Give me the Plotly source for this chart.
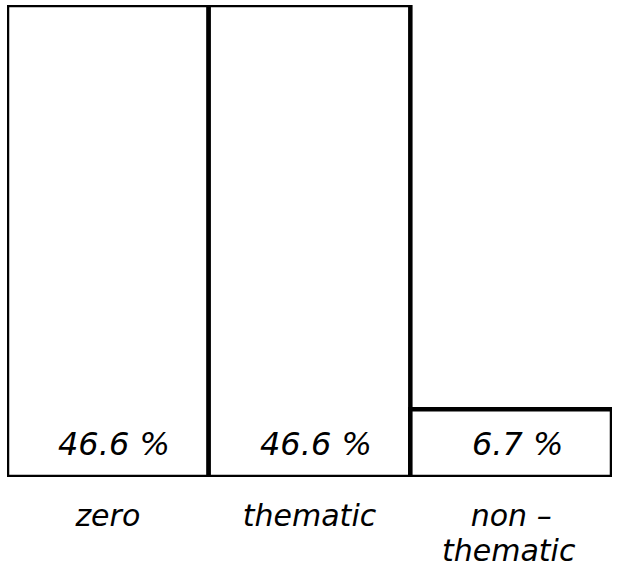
import plotly.graph_objects as go

categories = ["zero", "thematic", "non-thematic"]
tick_labels = ["zero", "thematic", "non –"]
tick_label_second_line = ["", "", "thematic"]
values = [46.6, 46.6, 6.7]
value_labels = ["46.6 %", "46.6 %", "6.7 %"]

FONT = "DejaVu Sans"

fig = go.Figure()
fig.add_trace(go.Bar(
    x=categories, y=values,
    marker=dict(color="white", line=dict(color="black", width=4.5)),
    hoverinfo="skip",
))

for c, t in zip(categories, value_labels):
    fig.add_annotation(
        x=c, y=0, text=t, showarrow=False, xref="x", yref="y",
        yanchor="bottom", yshift=12, xshift=6,
        font=dict(family=FONT, size=32, color="black", style="italic"),
    )

for c, t in zip(categories, tick_label_second_line):
    if t:
        fig.add_annotation(
            x=c, y=0, text=t, showarrow=False, xref="x", yref="y",
            yanchor="top", yshift=-54, xshift=-2,
            font=dict(family=FONT, size=30, color="black", style="italic"),
        )

fig.update_layout(
    width=618, height=574,
    margin=dict(l=7, r=6, t=5, b=97),
    paper_bgcolor="white", plot_bgcolor="white",
    bargap=0, showlegend=False,
    xaxis=dict(
        tickmode="array", tickvals=categories, ticktext=tick_labels,
        tickfont=dict(family=FONT, size=30, color="black", style="italic"),
        ticks="outside", ticklen=12, tickcolor="rgba(0,0,0,0)",
        showgrid=False, zeroline=False, showline=False, automargin=False,
        range=[-0.5, 2.5],
    ),
    yaxis=dict(
        range=[0, 46.6], visible=False, showgrid=False, zeroline=False,
        automargin=False,
    ),
)

fig.write_html(
    "out.html",
    config={"displayModeBar": False, "staticPlot": True},
    post_script="document.body.style.margin='0';document.body.style.overflow='hidden';",
)
